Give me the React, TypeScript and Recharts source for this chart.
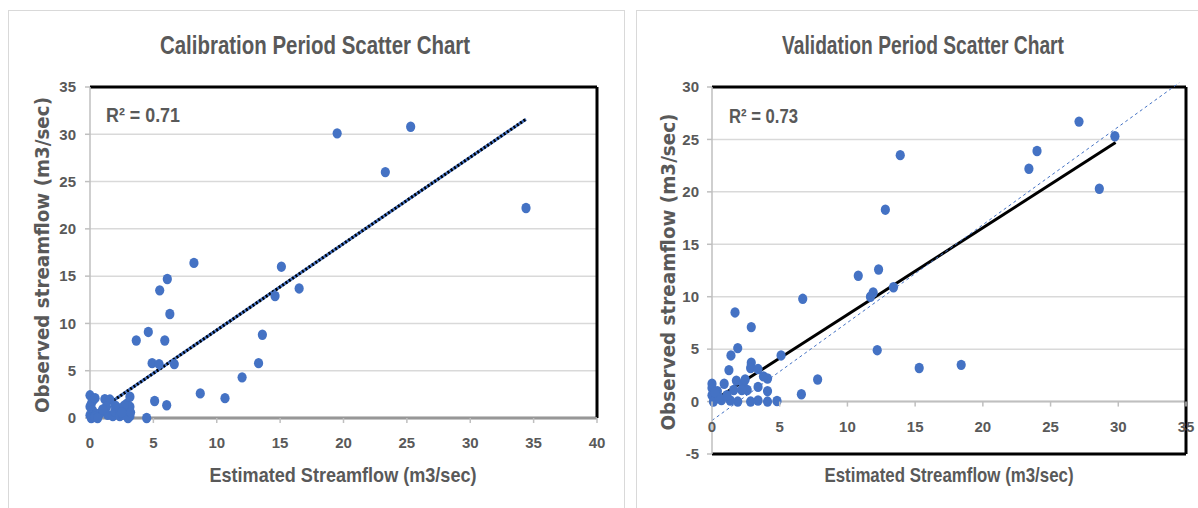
import React from "react";
import { ScatterChart, Scatter, XAxis, YAxis, CartesianGrid, ReferenceLine } from "recharts";

// calibration period (estimated vs observed, m3/sec)
const calEstimated = [
  19.5, 25.3, 23.3, 34.4, 8.2, 15.1, 6.1, 5.5, 16.5, 14.6, 6.3, 4.6, 3.65, 5.9, 13.6, 4.9, 5.45, 6.65, 13.3, 12.0,
  8.7, 10.65, 5.1, 6.05, 4.47,
  0, 0.25, 0.1, 0.4, 0, 0.2, 0, 0.1, 0.3, 0.5, 0.8, 0.4, 1.17, 1.57, 1.3, 1.4, 1.8, 1.95, 2.35, 2.35, 2.6, 2.9, 2.9,
  3.15, 3.15, 3.15, 3.0, 2.7, 2.0, 0.6, 1.0, 2.5, 3.2,
];
const calObserved = [
  30.1, 30.8, 26.0, 22.2, 16.4, 16.0, 14.7, 13.5, 13.7, 12.9, 11.0, 9.1, 8.2, 8.2, 8.8, 5.8, 5.7, 5.7, 5.8, 4.3,
  2.6, 2.1, 1.8, 1.35, 0,
  2.4, 1.9, 1.5, 2.1, 1.2, 0.8, 0.3, 0, 0.1, 0.4, 0.5, 0.14, 2.0, 1.95, 1.2, 0.33, 0.2, 0.7, 1.0, 0.2, 0.35, 0.7, 1.5,
  2.25, 1.2, 0.2, 0, 1.3, 1.3, 0, 0.9, 0.6, 0.6,
];

// validation period
const valEstimated = [
  27.1, 29.75, 24.0, 23.4, 13.9, 28.6, 12.8, 12.3, 10.8, 11.9, 11.7, 13.4, 6.7, 1.7, 2.9, 1.9, 1.4, 5.1, 12.2, 15.3,
  18.4, 7.8, 6.6, 1.25, 2.9, 2.85, 3.4, 4.1, 3.8, 3.4, 4.1, 4.8, 4.1, 3.4, 2.85, 1.9, 1.35,
  0, 0.9, 1.8, 2.3, 2.6, 2.2, 0.4, 0, 0.3, 0.7, 1.1, 1.6, 2.45, 0.1, 0, 0.5, 0.2,
];
const valObserved = [
  26.7, 25.3, 23.9, 22.2, 23.5, 20.3, 18.3, 12.6, 12.0, 10.4, 10.0, 10.9, 9.8, 8.5, 7.1, 5.1, 4.4, 4.4, 4.9, 3.2,
  3.5, 2.1, 0.7, 3.0, 3.7, 3.2, 3.1, 2.2, 2.4, 1.4, 1.0, 0.05, 0, 0.1, 0, 0, 0.1,
  1.7, 1.7, 2.0, 1.7, 1.1, 1.1, 1.0, 0.6, 0.3, 0.15, 0.6, 1.1, 2.1, 0, 1.3, 0.4, 0.9,
];

const calTicksX = [0, 5, 10, 15, 20, 25, 30, 35, 40];
const calTicksY = [0, 5, 10, 15, 20, 25, 30, 35];
const valTicksX = [0, 5, 10, 15, 20, 25, 30, 35];
const valTicksY = [-5, 0, 5, 10, 15, 20, 25, 30];

// trendline end points
const calTrendX = [0.05, 34.4];
const calTrendY = [0.2, 31.6];
const valTrendX = [0, 29.8];
const valTrendY = [0, 24.7];
const valRefX = [0, 34.5];
const valRefY = [-1.8, 30.4];

const calData = calEstimated.map((x, i) => ({ x, y: calObserved[i] }));
const valData = valEstimated.map((x, i) => ({ x, y: valObserved[i] }));
const seg = (xs: number[], ys: number[]) => xs.map((x, i) => ({ x, y: ys[i] }));

const BLUE = "#4472C4";
const TEXT = "#595959";
const AXIS = "#bfbfbf";
const GRID = "#d9d9d9";
const NARROW = "'Liberation Sans Narrow', 'Liberation Sans', Arial, sans-serif";
const tickStyle = { fill: TEXT, fontSize: 15, fontFamily: NARROW, fontWeight: 600 };

const Dot = (props: any) => <ellipse cx={props.cx} cy={props.cy} rx={4.6} ry={5.2} fill={BLUE} />;

// validation chart: x axis crosses at y = 0, not at the bottom
const VAL_TOP = 87;
const VAL_BOTTOM = 54;
const VAL_H = 508 - VAL_TOP - VAL_BOTTOM;
const VAL_SHIFT = (VAL_H * 5) / 35;

const ValXTick = (props: any) => {
  const { x, y, payload } = props;
  const zy = y - VAL_SHIFT;
  return (
    <g>
      <line x1={x} x2={x} y1={zy} y2={zy + 5} stroke={AXIS} strokeWidth={1.5} />
      <text x={x} y={zy + 30} textAnchor="middle" {...tickStyle}>
        {payload.value}
      </text>
    </g>
  );
};

export default function App() {
  return (
    <div style={{ position: "fixed", left: 0, top: 0, width: 1198, height: 508, background: "#fff", overflow: "hidden" }}>
      {/* card borders */}
      <div style={{ position: "absolute", left: 8, top: 10, width: 615, height: 520, border: `1.5px solid ${GRID}` }} />
      <div style={{ position: "absolute", left: 636, top: 10, width: 600, height: 520, border: `1.5px solid ${GRID}` }} />

      <div style={{ position: "absolute", left: 0, top: 0 }}>
        <ScatterChart width={620} height={508} margin={{ top: 87, right: 23, left: 50, bottom: 50 }}>
          <CartesianGrid vertical={false} stroke={GRID} strokeWidth={1.5} />
          <XAxis
            type="number"
            dataKey="x"
            domain={[0, 40]}
            ticks={calTicksX}
            interval={0}
            height={40}
            tick={tickStyle}
            tickSize={5}
            tickMargin={14}
            axisLine={{ stroke: AXIS, strokeWidth: 1.5 }}
            tickLine={{ stroke: AXIS, strokeWidth: 1.5 }}
          />
          <YAxis
            type="number"
            dataKey="y"
            domain={[0, 35]}
            ticks={calTicksY}
            interval={0}
            width={40}
            tick={tickStyle}
            tickSize={5}
            tickMargin={9}
            axisLine={{ stroke: AXIS, strokeWidth: 1.5 }}
            tickLine={{ stroke: AXIS, strokeWidth: 1.5 }}
          />
          <ReferenceLine y={35} stroke="#000" strokeWidth={3} />
          <ReferenceLine x={40} stroke="#000" strokeWidth={3} />
          <ReferenceLine y={0} stroke="#222" strokeWidth={2.5} />
          <Scatter data={calData} shape={Dot} isAnimationActive={false} />
          <ReferenceLine segment={seg(calTrendX, calTrendY)} stroke={BLUE} strokeWidth={3} />
          <ReferenceLine segment={seg(calTrendX, calTrendY)} stroke="#000" strokeWidth={3} strokeDasharray="2 2" />
        </ScatterChart>
      </div>

      <div style={{ position: "absolute", left: 620, top: 0 }}>
        <ScatterChart width={578} height={508} margin={{ top: VAL_TOP, right: 12, left: 52, bottom: VAL_BOTTOM - 20 }}>
          <CartesianGrid vertical={false} stroke={GRID} strokeWidth={1.5} />
          <XAxis
            type="number"
            dataKey="x"
            domain={[0, 35]}
            ticks={valTicksX}
            interval={0}
            height={20}
            tick={ValXTick}
            tickSize={0}
            tickMargin={0}
            axisLine={false}
            tickLine={false}
          />
          <YAxis
            type="number"
            dataKey="y"
            domain={[-5, 30]}
            ticks={valTicksY}
            interval={0}
            width={40}
            tick={tickStyle}
            tickSize={5}
            tickMargin={8}
            axisLine={{ stroke: AXIS, strokeWidth: 1.5 }}
            tickLine={{ stroke: AXIS, strokeWidth: 1.5 }}
          />
          <ReferenceLine y={0} stroke={AXIS} strokeWidth={2} />
          <ReferenceLine y={30} stroke="#000" strokeWidth={3} />
          <ReferenceLine x={35} stroke="#000" strokeWidth={3} />
          <ReferenceLine y={-5} stroke="#000" strokeWidth={3} />
          <Scatter data={valData} shape={Dot} isAnimationActive={false} />
          <ReferenceLine segment={seg(valTrendX, valTrendY)} stroke="#000" strokeWidth={3} />
          <ReferenceLine
            segment={seg(valRefX, valRefY)}
            stroke={BLUE}
            strokeWidth={1}
            strokeDasharray="3 3"
            ifOverflow="visible"
          />
        </ScatterChart>
      </div>

      {/* titles, axis titles, R² labels */}
      <svg width={1198} height={508} style={{ position: "absolute", left: 0, top: 0, pointerEvents: "none" }}>
        <g fill={TEXT} fontFamily={NARROW} fontWeight="bold">
          <text x={315} y={54} fontSize={25} textAnchor="middle" textLength={310} lengthAdjust="spacingAndGlyphs">
            Calibration Period Scatter Chart
          </text>
          <text x={923} y={54} fontSize={25} textAnchor="middle" textLength={282} lengthAdjust="spacingAndGlyphs">
            Validation Period Scatter Chart
          </text>
          <text x={106} y={122} fontSize={21} textLength={74} lengthAdjust="spacingAndGlyphs">
            R² = 0.71
          </text>
          <text x={729} y={123} fontSize={21} textLength={69} lengthAdjust="spacingAndGlyphs">
            R² = 0.73
          </text>
          <text x={343} y={482} fontSize={21} textAnchor="middle" textLength={267} lengthAdjust="spacingAndGlyphs">
            Estimated Streamflow (m3/sec)
          </text>
          <text x={949} y={482} fontSize={21} textAnchor="middle" textLength={249} lengthAdjust="spacingAndGlyphs">
            Estimated Streamflow (m3/sec)
          </text>
        </g>
        <g fill={TEXT} fontFamily="'DejaVu Sans', Verdana, sans-serif" fontWeight="bold" fontSize={19}>
          <text
            transform="translate(49,255) rotate(-90)"
            textAnchor="middle"
            textLength={316}
            lengthAdjust="spacingAndGlyphs"
          >
            Observed streamflow (m3/sec)
          </text>
          <text
            transform="translate(675,272) rotate(-90)"
            textAnchor="middle"
            textLength={317}
            lengthAdjust="spacingAndGlyphs"
          >
            Observed streamflow (m3/sec)
          </text>
        </g>
      </svg>
    </div>
  );
}
